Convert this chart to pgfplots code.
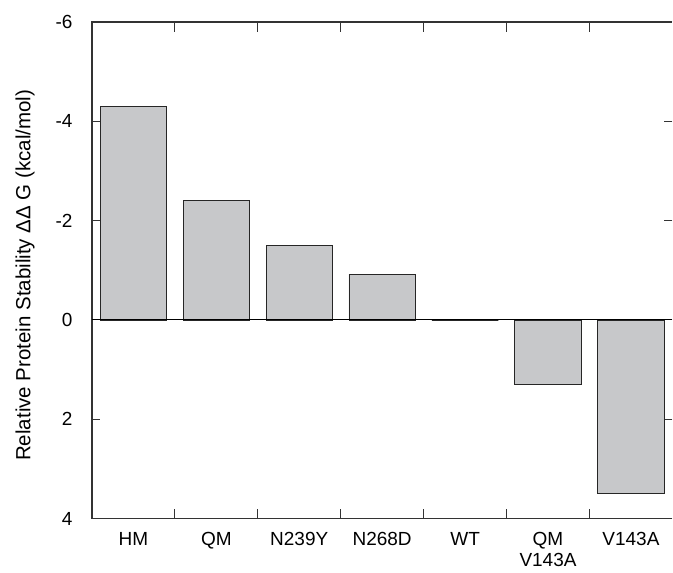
\documentclass[border=0pt]{standalone}
\usepackage{pgfplots}
\pgfplotsset{compat=1.18}
\usepackage{fontspec}
\setmainfont{Liberation Sans}
\definecolor{barfill}{RGB}{199,200,202}
\begin{document}
\begin{tikzpicture}
\begin{axis}[
  scale only axis,
  width=581pt, height=497pt,
  xmin=-0.5, xmax=6.5,
  ymin=-6, ymax=4,
  y dir=reverse,
  ytick={-6,-4,-2,0,2,4},
  yticklabels={-6,-4,-2,0,2,4},
  xtick={0,1,2,3,4,5,6},
  xticklabels={HM,QM,N239Y,N268D,WT,QM\\V143A,V143A},
  minor xtick={0.5,1.5,2.5,3.5,4.5,5.5},
  xtick pos=both,
  ytick pos=both,
  yticklabel pos=left,
  xticklabel pos=bottom,
  major x tick style={draw=none},
  major tick length=8pt,
  minor tick length=10pt,
  tick style={line width=1pt, black!80},
  axis line style={draw=none},
  tick label style={font=\fontsize{19}{21}\selectfont},
  xticklabel style={align=center, anchor=north, yshift=-10pt},
  yticklabel style={anchor=east, xshift=-16pt},
  ylabel={Relative Protein Stability ΔΔ G (kcal/mol)},
  ylabel style={font=\fontsize{20.5}{22}\selectfont, at={(axis description cs:-0.115,0.49)}, anchor=center, rotate=0},
  clip=false,
]
\addplot[ybar, bar width=0.8, fill=barfill, draw=black!85, line width=0.8pt]
  coordinates {(0,-4.3) (1,-2.4) (2,-1.5) (3,-0.92) (4,0) (5,1.3) (6,3.5)};
\draw[line width=1.2pt, black!80] (rel axis cs:0,0) -- (rel axis cs:0,1) -- (rel axis cs:1,1);
\draw[line width=1.2pt, black!80] (rel axis cs:0,0) -- (rel axis cs:1,0);
\draw[line width=1pt, black] (axis cs:-0.5,0) -- (axis cs:6.5,0);
\coordinate (bl) at (rel axis cs:0,0);
\end{axis}
\path (bl) ++(-92pt,-54pt) rectangle ++(673pt,573pt);
\end{tikzpicture}
\end{document}
